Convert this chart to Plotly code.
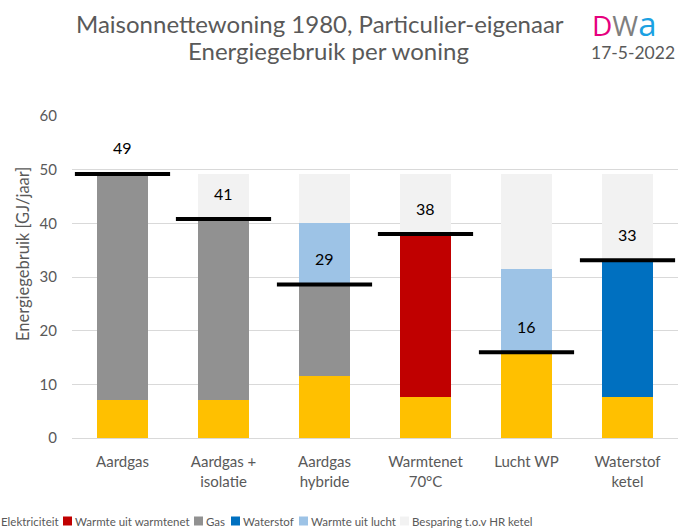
import plotly.graph_objects as go

categories = ["Aardgas", "Aardgas +<br>isolatie", "Aardgas<br>hybride", "Warmtenet<br>70°C", "Lucht WP", "Waterstof<br>ketel"]
elektriciteit = [7.1, 7.1, 11.6, 7.7, 16.0, 7.7]
warmtenet = [0, 0, 0, 30.3, 0, 0]
gas = [42.1, 33.7, 17.0, 0, 0, 0]
waterstof = [0, 0, 0, 0, 0, 25.4]
lucht = [0, 0, 11.4, 0, 15.5, 0]
besparing = [0, 8.4, 9.2, 11.2, 17.7, 16.1]
totaal = [49.2, 40.8, 28.6, 38.0, 16.0, 33.1]
totaal_labels = ["49", "41", "29", "38", "16", "33"]

series = [
    ("Elektriciteit", elektriciteit, "#FFC000"),
    ("Warmte uit warmtenet", warmtenet, "#C00000"),
    ("Gas", gas, "#919191"),
    ("Waterstof", waterstof, "#0070C0"),
    ("Warmte uit lucht", lucht, "#9DC3E6"),
    ("Besparing t.o.v HR ketel", besparing, "#F2F2F2"),
]

FONT = "Lato, 'Open Sans', sans-serif"
GREY = "#595959"
W, H = 679, 530
ML, MR, MT, MB = 72, 1, 116, 92
PW, PH = W - ML - MR, H - MT - MB


def px_x(px):
    return (px - ML) / PW


def px_y(py):
    return (H - MB - py) / PH


fig = go.Figure()
for name, vals, col in series:
    fig.add_trace(go.Bar(x=categories, y=vals, name=name, marker=dict(color=col, line=dict(width=0)),
                         showlegend=False, hoverinfo="y+name"))

fig.add_trace(go.Scatter(x=categories, y=totaal, mode="markers", showlegend=False,
                         marker=dict(symbol="line-ew", size=68, line=dict(color="black", width=4)),
                         hoverinfo="y"))

annotations = []
for c, t, lab in zip(categories, totaal, totaal_labels):
    annotations.append(dict(x=c, y=t, text=lab, showarrow=False, yshift=26, yanchor="middle",
                            font=dict(family=FONT, size=16, color="black")))

# title block
annotations.append(dict(xref="paper", yref="paper", x=px_x(320), y=px_y(24),
                        text="Maisonnettewoning 1980, Particulier-eigenaar", showarrow=False,
                        xanchor="center", yanchor="middle", font=dict(family=FONT, size=24, color=GREY)))
annotations.append(dict(xref="paper", yref="paper", x=px_x(328), y=px_y(51),
                        text="Energiegebruik per woning", showarrow=False,
                        xanchor="center", yanchor="middle", font=dict(family=FONT, size=24, color=GREY)))
# y-axis title
annotations.append(dict(xref="paper", yref="paper", x=px_x(23), y=px_y(254),
                        text="Energiegebruik [GJ/jaar]", showarrow=False, textangle=-90,
                        xanchor="center", yanchor="middle", font=dict(family=FONT, size=16.5, color=GREY)))
# logo
annotations.append(dict(xref="paper", yref="paper", x=px_x(590), y=px_y(24),
                        text="<span style='color:#E6007E'>D</span><span style='color:#7F7F7F'>W</span>"
                             "<span style='color:#1BA1E2;font-size:33px'>a</span>",
                        showarrow=False, xanchor="left", yanchor="middle",
                        font=dict(family="'Open Sans', sans-serif", size=28, color="#7F7F7F")))
annotations.append(dict(xref="paper", yref="paper", x=px_x(589), y=px_y(52),
                        text="17-5-2022", showarrow=False, xanchor="left", yanchor="middle",
                        font=dict(family=FONT, size=17.5, color=GREY)))

# custom legend (single row, overflowing like the original)
legend_pos = [-11, 63, 194, 231, 299, 400]
shapes = []
ly = 521
for (name, vals, col), px in zip(series, legend_pos):
    shapes.append(dict(type="rect", xref="paper", yref="paper",
                       x0=px_x(px), x1=px_x(px + 9),
                       y0=px_y(ly + 4.5), y1=px_y(ly - 4.5),
                       fillcolor=col, line=dict(width=0)))
    annotations.append(dict(xref="paper", yref="paper", x=px_x(px + 10), y=px_y(ly),
                            text=name, showarrow=False, xanchor="left", yanchor="middle",
                            font=dict(family=FONT, size=11.5, color=GREY)))

fig.update_layout(
    width=W, height=H, barmode="stack", bargap=0.5,
    margin=dict(l=ML, r=MR, t=MT, b=MB),
    paper_bgcolor="white", plot_bgcolor="white",
    font=dict(family=FONT, color=GREY),
    annotations=annotations, shapes=shapes,
    xaxis=dict(range=[-0.5, 5.5], showgrid=False, showline=True, linecolor="#D9D9D9", linewidth=1,
               tickfont=dict(family=FONT, size=15, color=GREY), ticklabelstandoff=10),
    yaxis=dict(range=[0, 60], dtick=10, showgrid=True, gridcolor="#D9D9D9", gridwidth=1,
               zeroline=False, tickfont=dict(family=FONT, size=15, color=GREY),
               ticklabelstandoff=14, automargin=False),
)

fig.write_html("out.html", config={"displayModeBar": False},
               post_script="document.body.style.margin='0';")
